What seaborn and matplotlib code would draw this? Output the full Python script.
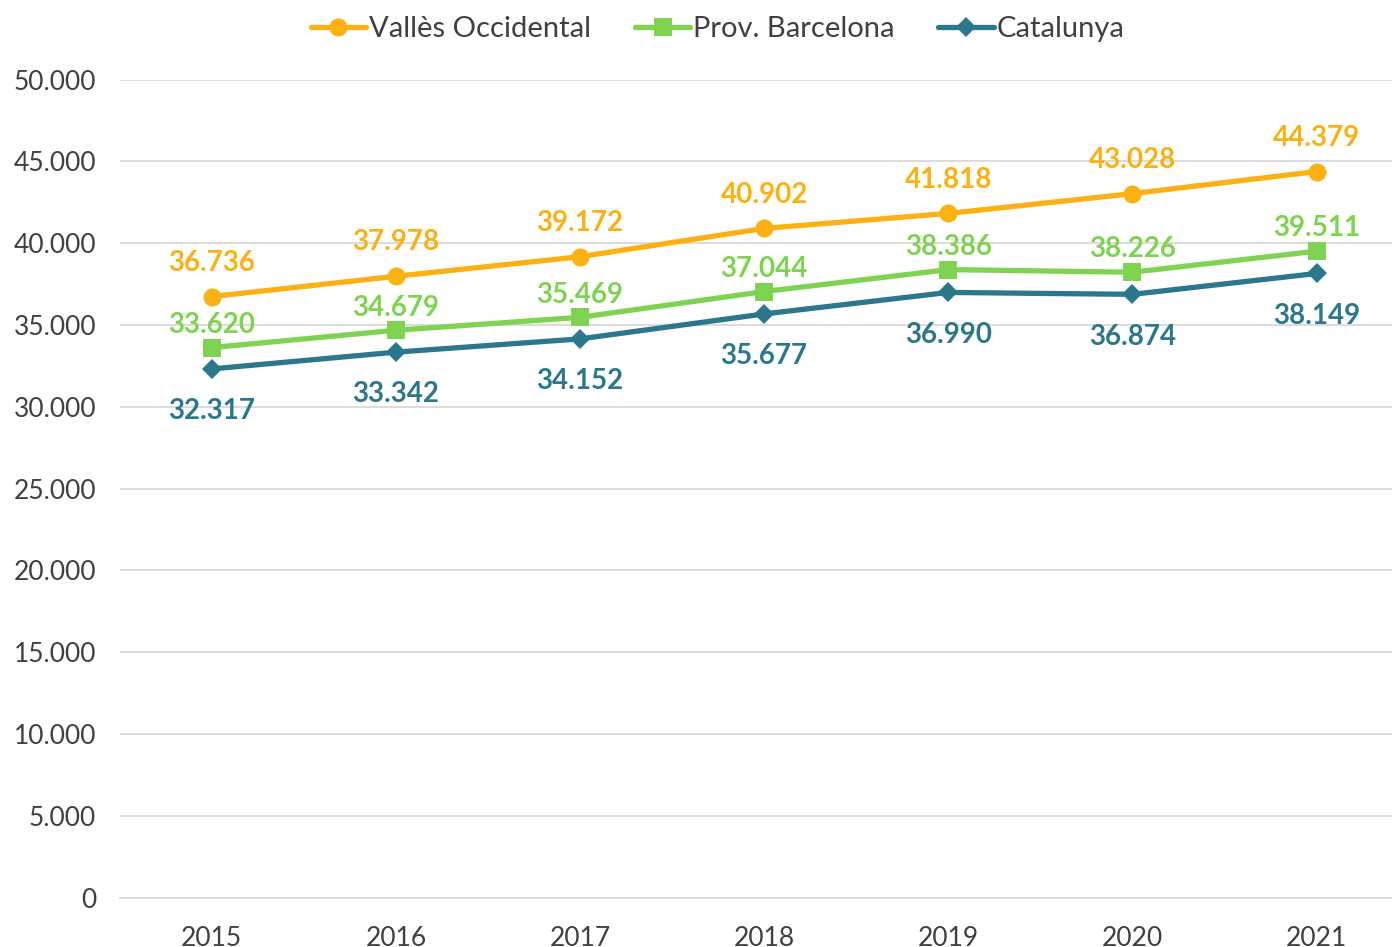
import matplotlib
matplotlib.use("Agg")
import matplotlib.pyplot as plt
import seaborn as sns
import pandas as pd

years = ["2015", "2016", "2017", "2018", "2019", "2020", "2021"]
valles = [36736, 37978, 39172, 40902, 41818, 43028, 44379]
barcelona = [33620, 34679, 35469, 37044, 38386, 38226, 39511]
catalunya = [32317, 33342, 34152, 35677, 36990, 36874, 38149]
series_names = ["Vallès Occidental", "Prov. Barcelona", "Catalunya"]

sns.set_style("white")
plt.rcParams["font.family"] = ["Lato", "DejaVu Sans"]

df = pd.DataFrame({"Any": years * 3,
                   "Valor": valles + barcelona + catalunya,
                   "Serie": [s for s in series_names for _ in years]})

colors = {"Vallès Occidental": "#FBB111", "Prov. Barcelona": "#7ED350", "Catalunya": "#2B778B"}
markers = {"Vallès Occidental": "o", "Prov. Barcelona": "s", "Catalunya": "D"}
msize = {"Vallès Occidental": 13, "Prov. Barcelona": 12.5, "Catalunya": 10}

fig = plt.figure(figsize=(13.92, 9.47), dpi=100)
ax = fig.add_axes([0.086, 0.052, 0.914, 0.864])

for name in series_names:
    sub = df[df["Serie"] == name]
    sns.lineplot(data=sub, x="Any", y="Valor", color=colors[name], marker=markers[name],
                 markersize=msize[name], markeredgewidth=0, linewidth=3.8, label=name,
                 sort=False, ax=ax)

def fmt(v):
    return f"{v:,}".replace(",", ".")

# data labels
for i, v in enumerate(valles):
    ax.annotate(fmt(v), (i, v), xytext=(0, 15), textcoords="offset points", ha="center",
                va="bottom", color=colors["Vallès Occidental"], fontsize=20, fontweight="bold")
for i, v in enumerate(barcelona):
    ax.annotate(fmt(v), (i, v), xytext=(0, 7), textcoords="offset points", ha="center",
                va="bottom", color=colors["Prov. Barcelona"], fontsize=20, fontweight="bold")
for i, v in enumerate(catalunya):
    ax.annotate(fmt(v), (i, v), xytext=(0, -21), textcoords="offset points", ha="center",
                va="top", color=colors["Catalunya"], fontsize=20, fontweight="bold")

ax.set_ylim(0, 50000)
ax.set_xlim(-0.5, 6.41)
ax.set_yticks(range(0, 50001, 5000))
ax.set_yticklabels([fmt(t) for t in range(0, 50001, 5000)])
ax.yaxis.grid(True, color="#D9D9D9", linewidth=1.3)
ax.set_axisbelow(True)
ax.tick_params(axis="both", labelsize=19, colors="#404040", length=0)
ax.tick_params(axis="x", pad=20)
ax.tick_params(axis="y", pad=17)
ax.set_xlabel("")
ax.set_ylabel("")
for s in ["top", "right", "left"]:
    ax.spines[s].set_visible(False)
ax.spines["bottom"].set_color("#D9D9D9")
ax.spines["bottom"].set_linewidth(1.3)

leg = ax.legend(loc="upper center", bbox_to_anchor=(0.47, 1.11), ncol=3, frameon=False,
                fontsize=21, handlelength=1.9, handletextpad=0.1, columnspacing=1.5)
for t in leg.get_texts():
    t.set_color("#404040")

fig.savefig("out.png", dpi=100)
